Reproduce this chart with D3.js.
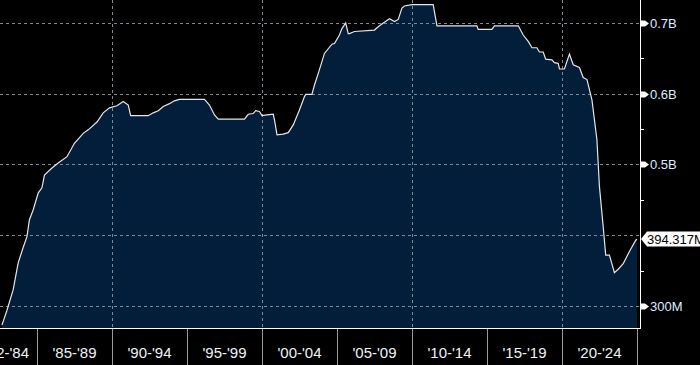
<!DOCTYPE html>
<html>
<head>
<meta charset="utf-8">
<script src="https://cdn.jsdelivr.net/npm/d3@7"></script>
<style>
  html, body { margin: 0; padding: 0; background: #000; }
  svg { display: block; }
  text { font-family: "Liberation Sans", Arial, sans-serif; }
</style>
</head>
<body>
<div id="chart"></div>
<script>
// Data (monthly points, values in millions)
var dates = [
  "1982-09", "1983-01", "1983-06", "1983-10", "1984-02", "1984-05", "1984-07", "1984-10",
  "1985-02", "1985-05", "1985-07", "1986-01", "1986-06", "1987-01", "1987-07", "1988-02",
  "1988-06", "1989-01", "1989-06", "1989-11", "1990-05", "1990-10", "1991-02", "1991-04",
  "1992-06", "1992-10", "1993-02", "1993-06", "1993-11", "1994-03", "1994-07", "1996-03",
  "1996-07", "1996-11", "1997-02", "1998-11", "1999-02", "1999-06", "1999-08", "1999-11",
  "2000-01", "2000-05", "2000-10", "2000-11", "2001-01", "2001-06", "2001-10", "2002-02",
  "2002-07", "2002-11", "2002-12", "2003-05", "2003-07", "2003-11", "2004-03", "2004-09",
  "2004-11", "2005-03", "2005-05", "2005-08", "2005-10", "2005-11", "2006-03", "2007-07",
  "2007-11", "2008-03", "2008-07", "2008-11", "2009-02", "2009-05", "2009-07", "2010-01",
  "2011-06", "2011-09", "2014-05", "2014-06", "2015-05", "2015-07", "2017-02", "2017-06",
  "2017-10", "2018-01", "2018-05", "2018-07", "2018-10", "2018-12", "2019-05", "2019-07",
  "2019-10", "2019-11", "2020-03", "2020-07", "2020-10", "2021-03", "2021-06", "2021-09",
  "2022-01", "2022-05", "2022-07", "2022-10", "2022-12", "2023-03", "2023-07", "2023-10",
  "2024-02", "2024-07", "2024-12", "2025-01"
];

var values = [
  273, 294, 323, 361, 383, 398, 422, 436,
  460, 467, 485, 495, 502, 511, 530, 544,
  549, 560, 573, 580, 583, 589, 584, 569,
  569, 573, 576, 582, 586, 590, 592, 592,
  584, 570, 564, 564, 571, 572, 576, 575,
  569, 570, 571, 563, 542, 543, 545, 556,
  577, 596, 599, 599, 612, 634, 657, 670,
  671, 683, 692, 700, 685, 685, 688, 690,
  696, 701, 706, 702, 705, 721, 724, 726,
  726, 696, 696, 691, 691, 696, 696, 683,
  674, 665, 665, 659, 659, 649, 648, 644,
  643, 635, 635, 656, 641, 637, 623, 620,
  591, 535, 469, 412, 372, 372, 347, 352,
  360, 377, 393, 394.317
];

var yTickValues = [300, 400, 500, 600, 700];
var yTickLabels = ["300M", "0.4B", "0.5B", "0.6B", "0.7B"];
var yMinorTicks = [350, 450, 550, 650];

// period label spans (first one starts before the visible range)
var periodStarts = [1981, 1985, 1990, 1995, 2000, 2005, 2010, 2015, 2020];
var periodEnds = [1985, 1990, 1995, 2000, 2005, 2010, 2015, 2020, 2025];
var periodLabels = ["'82-'84", "'85-'89", "'90-'94", "'95-'99", "'00-'04", "'05-'09", "'10-'14", "'15-'19", "'20-'24"];

var lastLabel = "394.317M";

var svgWidth = 700;
var svgHeight = 365;
var plotRight = 640;
var plotBottom = 328;

var parseMonth = d3.timeParse("%Y-%m");
var data = dates.map(function(d, i) {
  return { date: parseMonth(d), value: values[i] };
});

var svg = d3.select("#chart")
  .append("svg")
  .attr("width", svgWidth)
  .attr("height", svgHeight);

// scales
var xScale = d3.scaleTime()
  .domain([new Date(1985, 0, 1), new Date(2025, 0, 1)])
  .range([37, 637]);

var yScale = d3.scaleLinear()
  .domain([268.9, 732.5])
  .range([plotBottom, 0]);

var yearX = y => Math.round(xScale(new Date(y, 0, 1))) + 0.5;

svg.append("clipPath").attr("id", "plotClip")
  .append("rect")
  .attr("x", 0).attr("y", 0)
  .attr("width", plotRight).attr("height", plotBottom);

var plot = svg.append("g").attr("clip-path", "url(#plotClip)");

// area + line
var area = d3.area()
  .x(d => xScale(d.date))
  .y0(plotBottom)
  .y1(d => yScale(d.value));

var line = d3.line()
  .x(d => xScale(d.date))
  .y(d => yScale(d.value));

plot.append("path")
  .datum(data)
  .attr("d", area)
  .attr("fill", "#031e3b");

// dashed grid over the fill
var gridYears = [1990, 2000, 2010, 2020];
plot.selectAll(".vgrid")
  .data(gridYears)
  .enter()
  .append("line")
  .attr("x1", yearX)
  .attr("x2", yearX)
  .attr("y1", 0)
  .attr("y2", plotBottom)
  .attr("stroke", "#7f8894")
  .attr("stroke-dasharray", "3,3");

plot.selectAll(".hgrid")
  .data(yTickValues)
  .enter()
  .append("line")
  .attr("x1", 0)
  .attr("x2", plotRight)
  .attr("y1", d => Math.round(yScale(d)) + 0.5)
  .attr("y2", d => Math.round(yScale(d)) + 0.5)
  .attr("stroke", "#7f8894")
  .attr("stroke-dasharray", "3,3");

plot.append("path")
  .datum(data)
  .attr("d", line)
  .attr("fill", "none")
  .attr("stroke", "#e6e6e6")
  .attr("stroke-width", 1.2);

// frame: bottom + right
svg.append("line")
  .attr("x1", 0).attr("x2", plotRight + 1)
  .attr("y1", plotBottom + 0.5).attr("y2", plotBottom + 0.5)
  .attr("stroke", "#fff");

svg.append("line")
  .attr("x1", plotRight + 0.5).attr("x2", plotRight + 0.5)
  .attr("y1", 0).attr("y2", plotBottom + 1)
  .attr("stroke", "#fff");

// bottom axis: period separators + centered labels
var sepYears = d3.range(1985, 2026, 5);
svg.selectAll(".xsep")
  .data(sepYears)
  .enter()
  .append("line")
  .attr("x1", yearX)
  .attr("x2", yearX)
  .attr("y1", plotBottom + 1)
  .attr("y2", svgHeight)
  .attr("stroke", "#9a9a9a");

svg.selectAll(".xlabel")
  .data(periodStarts)
  .enter()
  .append("text")
  .attr("x", (d, i) => (xScale(new Date(d, 0, 1)) + xScale(new Date(periodEnds[i], 0, 1))) / 2)
  .attr("y", 358)
  .attr("text-anchor", "middle")
  .attr("fill", "#eef2f8")
  .style("font-size", "15px")
  .text((d, i) => periodLabels[i]);

// right axis
var lastY = yScale(values[values.length - 1]);

svg.selectAll(".ymin")
  .data(yMinorTicks)
  .enter()
  .append("line")
  .attr("x1", plotRight)
  .attr("x2", plotRight + 4)
  .attr("y1", d => Math.round(yScale(d)) + 0.5)
  .attr("y2", d => Math.round(yScale(d)) + 0.5)
  .attr("stroke", "#fff");

var yTicks = yTickValues
  .map((v, i) => ({ v: v, label: yTickLabels[i] }))
  .filter(d => Math.abs(yScale(d.v) - lastY) > 12);

var tickG = svg.selectAll(".ytick")
  .data(yTicks)
  .enter()
  .append("g")
  .attr("transform", d => `translate(${plotRight}, ${Math.round(yScale(d.v)) + 0.5})`);

tickG.append("path")
  .attr("d", "M1,-3 L5,-3 L9,0 L5,3 L1,3 Z")
  .attr("fill", "#fff");

tickG.append("text")
  .attr("x", 10)
  .attr("dy", "0.36em")
  .attr("fill", "#dfeaff")
  .style("font-size", "13px")
  .text(d => d.label);

// last value tag
var tag = svg.append("g")
  .attr("transform", `translate(${plotRight}, ${Math.round(lastY)})`);

tag.append("path")
  .attr("d", "M1,0 L7,-7.5 L62,-7.5 L62,7.5 L7,7.5 Z")
  .attr("fill", "#fff");

tag.append("text")
  .attr("x", 7)
  .attr("dy", "0.36em")
  .attr("fill", "#000")
  .style("font-size", "13px")
  .text(lastLabel);
</script>
</body>
</html>
